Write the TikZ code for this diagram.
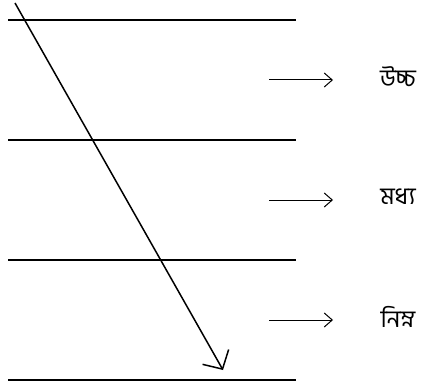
\documentclass[tikz,border=0pt]{standalone}
\usepackage{fontspec}
\newfontfamily\bnfont[Script=Bengali]{Hind Siliguri}
\usetikzlibrary{arrows.meta}
\begin{document}
\begin{tikzpicture}[x=1pt,y=-1pt,
  level/.style={line width=1.1pt},
  pointer/.style={line width=1pt,-{Straight Barb[length=8pt,width=14pt,line width=1pt]}},
  main/.style={line width=1.5pt,-{Straight Barb[length=14pt,width=30pt,line width=1.5pt]}},
  lbl/.style={font=\bnfont\fontsize{24}{28}\selectfont,anchor=center,inner sep=0pt}]
\useasboundingbox (0,0) rectangle (425,382);
\foreach \y in {20,140,260,380}{
  \draw[level] (8,\y) -- (296,\y);
}
\coordinate (s) at (15,3);
\coordinate (t) at (223,370);
\draw[main] (s) -- (t);
\foreach \y/\n/\t in {80/a/উচ্চ,200/b/মধ্য,320/c/নিম্ন}{
  \coordinate (\n0) at (269,\y);
  \node[lbl] (\n) at (398,\y-3) {\t};
  \draw[pointer] (\n0) -- ++(64,0);
}
\end{tikzpicture}
\end{document}
